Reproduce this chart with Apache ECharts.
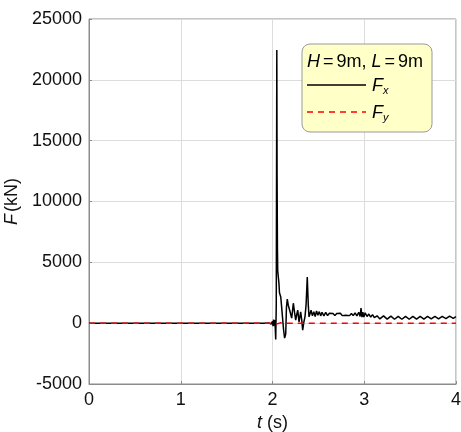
<!DOCTYPE html>
<html><head><meta charset="utf-8">
<script src="https://cdn.jsdelivr.net/npm/echarts@6/dist/echarts.min.js"></script>
<style>html,body{margin:0;padding:0;background:#fff}#c{width:461px;height:432px}</style>
</head><body><div id="c"></div>
<script>
// Time axis (s) and force values (kN)
const fxTime = [0, 1.9, 1.96, 1.985, 2.0, 2.006, 2.012, 2.018, 2.024, 2.03, 2.035, 2.041, 2.047, 2.050, 2.054, 2.057, 2.063, 2.070, 2.076, 2.082, 2.090, 2.100, 2.110, 2.120, 2.132, 2.144, 2.152, 2.161, 2.172, 2.182, 2.193, 2.209, 2.218, 2.227, 2.240, 2.253, 2.264, 2.275, 2.289, 2.298, 2.307, 2.318, 2.329, 2.342, 2.354, 2.366, 2.379, 2.390, 2.398, 2.410, 2.420, 2.435, 2.450, 2.465, 2.480, 2.495, 2.510, 2.525, 2.540, 2.560, 2.580, 2.600, 2.620, 2.640, 2.660, 2.680, 2.700, 2.720, 2.740, 2.760, 2.780, 2.800, 2.820, 2.840, 2.860, 2.880, 2.900, 2.920, 2.940, 2.955, 2.965, 2.975, 2.985, 2.995, 3.010, 3.030, 3.050, 3.070, 3.090, 3.110, 3.140, 3.170, 3.210, 3.250, 3.290, 3.330, 3.370, 3.410, 3.450, 3.490, 3.530, 3.570, 3.610, 3.650, 3.690, 3.730, 3.770, 3.810, 3.850, 3.890, 3.930, 3.970, 4.0];
const fxValue = [0, 0, 20, -80, 150, -250, 300, -200, 250, -400, -1350, 1500, 22450, 12000, 6000, 4300, 4150, 3300, 2500, 2400, 2150, 1300, 400, -500, -1230, -900, 1300, 1970, 1475, 1200, 900, 410, 1000, 1640, 900, 250, 700, 1070, 110, 500, 930, 300, -570, 100, 520, 1500, 3800, 1500, 520, 800, 1070, 600, 950, 550, 1000, 650, 950, 600, 900, 600, 880, 620, 820, 680, 800, 620, 800, 680, 820, 620, 780, 660, 820, 620, 800, 620, 850, 600, 900, 550, 1250, 500, 900, 500, 850, 550, 750, 500, 700, 450, 600, 350, 600, 330, 580, 320, 560, 320, 560, 320, 560, 330, 560, 340, 560, 350, 560, 360, 560, 380, 580, 400, 540];
const fyTime = [0, 1.98, 2.02, 2.04, 2.06, 2.09, 2.12, 4.0];
const fyValue = [0, 0, -60, 80, -40, 30, 0, 0];
const xTicks = [0, 1, 2, 3, 4];
const yTicks = [-5000, 0, 5000, 10000, 15000, 20000, 25000];

const fxData = fxTime.map((t, i) => [t, fxValue[i]]);
const fyData = fyTime.map((t, i) => [t, fyValue[i]]);
const FONT = '"Liberation Sans", Arial, sans-serif';
const FS = 18;
const TXT = '#111';

const chart = echarts.init(document.getElementById('c'), null, {renderer: 'canvas'});
chart.setOption({
  animation: false,
  backgroundColor: '#fff',
  grid: {left: 89, right: 5, top: 19, bottom: 48, outerBoundsMode: 'none', containLabel: false,
    show: true, borderColor: '#8c8c8c', borderWidth: 1},
  xAxis: {
    type: 'value', min: xTicks[0], max: xTicks[xTicks.length - 1], interval: 1,
    name: '{i|t} (s)', nameLocation: 'middle', nameGap: 27,
    nameTextStyle: {fontFamily: FONT, fontSize: FS, color: TXT,
      rich: {i: {fontStyle: 'italic', fontFamily: FONT, fontSize: FS, color: TXT}}},
    axisLine: {show: true, onZero: false, lineStyle: {color: '#8c8c8c'}},
    axisTick: {show: true, inside: true, length: 3, lineStyle: {color: '#8c8c8c'}},
    axisLabel: {fontFamily: FONT, fontSize: FS, color: TXT, margin: 7, formatter: v => String(v)},
    splitLine: {show: true, lineStyle: {color: '#dcdcdc', width: 1}}
  },
  yAxis: {
    type: 'value', min: yTicks[0], max: yTicks[yTicks.length - 1], interval: 5000,
    name: '{i|F}(kN)', nameLocation: 'middle', nameGap: 57, nameRotate: 90,
    nameTextStyle: {fontFamily: FONT, fontSize: FS, color: TXT,
      rich: {i: {fontStyle: 'italic', fontFamily: FONT, fontSize: FS, color: TXT, padding: [0, 2, 0, 0]}}},
    axisLine: {show: true, onZero: false, lineStyle: {color: '#8c8c8c'}},
    axisTick: {show: true, inside: true, length: 3, lineStyle: {color: '#8c8c8c'}},
    axisLabel: {fontFamily: FONT, fontSize: FS, color: TXT, margin: 7, formatter: v => String(v)},
    splitLine: {show: true, lineStyle: {color: '#dcdcdc', width: 1}}
  },
  series: [
    {name: 'Fx', type: 'line', data: fxData, showSymbol: false, lineStyle: {color: '#000', width: 1.5}},
    {name: 'Fy', type: 'line', data: fyData, showSymbol: false, lineStyle: {color: '#ff0000', width: 1.5, type: [6, 5]}}
  ],
  graphic: [
    {type: 'rect', shape: {x: 302, y: 44, width: 130, height: 88, r: 8},
      style: {fill: '#ffffc8', stroke: '#9a9a9a', lineWidth: 1}, z: 100},
    {type: 'text', x: 307, y: 62, z: 101,
      style: {text: '{i|H}{e|=}9m, {i|L}{e|=}9m', verticalAlign: 'middle',
        rich: {i: {fontStyle: 'italic', fontSize: FS, fontFamily: FONT, fill: '#000'},
               e: {fontSize: FS, fontFamily: FONT, fill: '#000', padding: [0, 3, 0, 3]}},
        font: FS + 'px ' + FONT, fill: '#000'}},
    {type: 'line', shape: {x1: 307, y1: 85, x2: 366, y2: 85}, style: {stroke: '#000', lineWidth: 1.5}, z: 101},
    {type: 'text', x: 372, y: 86, z: 101,
      style: {text: '{i|F}{s|x}', verticalAlign: 'middle',
        rich: {i: {fontStyle: 'italic', fontSize: FS, fontFamily: FONT, fill: '#000'},
               s: {fontStyle: 'italic', fontSize: 11, fontFamily: FONT, fill: '#000', padding: [10, 0, 0, 0]}}}},
    {type: 'line', shape: {x1: 307, y1: 112, x2: 366, y2: 112}, style: {stroke: '#ff0000', lineWidth: 1.5, lineDash: [6, 5]}, z: 101},
    {type: 'text', x: 372, y: 113, z: 101,
      style: {text: '{i|F}{s|y}', verticalAlign: 'middle',
        rich: {i: {fontStyle: 'italic', fontSize: FS, fontFamily: FONT, fill: '#000'},
               s: {fontStyle: 'italic', fontSize: 11, fontFamily: FONT, fill: '#000', padding: [10, 0, 0, 0]}}}}
  ]
});
</script></body></html>
